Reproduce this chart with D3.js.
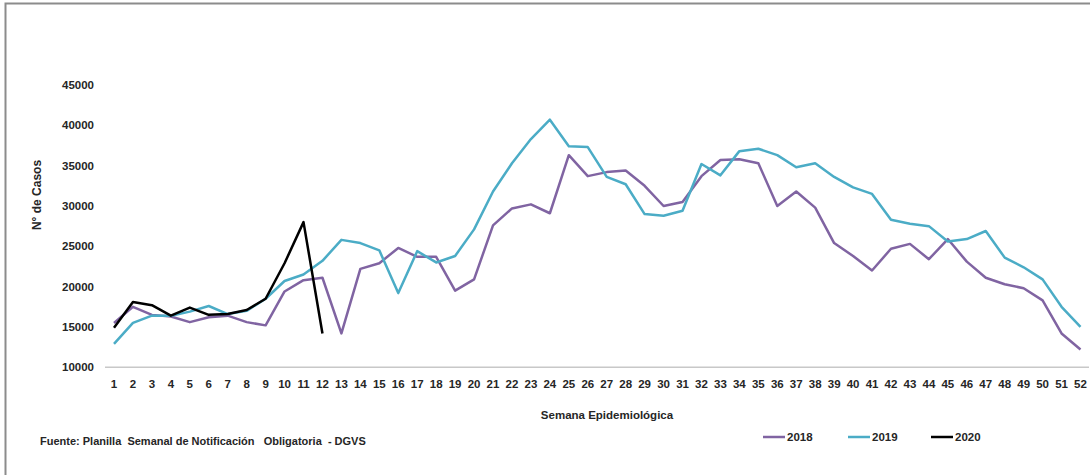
<!DOCTYPE html>
<html lang="es">
<head>
<meta charset="utf-8">
<title>Notificación semanal</title>
<script src="https://cdn.jsdelivr.net/npm/d3@7"></script>
<style>
  body { margin: 0; background: #fff; }
  svg { display: block; font-family: "Liberation Sans", Arial, sans-serif; font-weight: bold; }
</style>
</head>
<body>
<div id="chart"></div>
<script>
const weeks = d3.range(1, 53);
const yTicks = [10000, 15000, 20000, 25000, 30000, 35000, 40000, 45000];

const cases2018 = [15500, 17500, 16500, 16300, 15600, 16200, 16400, 15600, 15200, 19400,
  20800, 21100, 14200, 22200, 22900, 24800, 23700, 23700, 19500, 20900,
  27600, 29700, 30200, 29100, 36300, 33700, 34200, 34400, 32500, 30000,
  30500, 33700, 35700, 35800, 35300, 30000, 31800, 29800, 25400, 23800,
  22000, 24700, 25300, 23400, 25900, 23100, 21100, 20300, 19800, 18300,
  14200, 12200];
const cases2019 = [12900, 15500, 16400, 16400, 16900, 17600, 16600, 17000, 18500, 20700,
  21500, 23200, 25800, 25400, 24500, 19200, 24400, 23000, 23800, 27100,
  31800, 35300, 38300, 40700, 37400, 37300, 33600, 32700, 29000, 28800,
  29400, 35200, 33800, 36800, 37100, 36300, 34800, 35300, 33600, 32300,
  31500, 28300, 27800, 27500, 25600, 25900, 26900, 23600, 22400, 20900,
  17500, 15000];
const cases2020 = [14900, 18100, 17700, 16400, 17400, 16500, 16600, 17100, 18500, 22900,
  28000, 14200];

const series = [
  {name: "2018", color: "#8064a2", values: cases2018},
  {name: "2019", color: "#4bacc6", values: cases2019},
  {name: "2020", color: "#000000", values: cases2020}
];

const width = 1090, height = 475;

const svg = d3.select("#chart").append("svg")
    .attr("width", width)
    .attr("height", height);

// frame
svg.append("path")
    .attr("d", "M5.5,475V3.5H1090")
    .attr("fill", "none")
    .attr("stroke", "#8c8c8c")
    .attr("stroke-width", 2);

const x = d3.scalePoint()
    .domain(weeks)
    .range([114, 1080.5]);

const y = d3.scaleLinear()
    .domain([10000, 45000])
    .range([367.3, 85]);

// y axis labels
svg.append("g")
  .selectAll("text")
  .data(yTicks)
  .join("text")
    .attr("x", 94)
    .attr("y", d => y(d))
    .attr("dy", "0.35em")
    .attr("text-anchor", "end")
    .attr("font-size", 11.5)
    .attr("fill", "#262626")
    .text(d => d);

// x axis line
svg.append("line")
    .attr("x1", 105)
    .attr("x2", 1089)
    .attr("y1", y(10000))
    .attr("y2", y(10000))
    .attr("stroke", "#c8c8c8")
    .attr("stroke-width", 1.5);

svg.append("g")
  .selectAll("text")
  .data(weeks)
  .join("text")
    .attr("x", d => x(d))
    .attr("y", 384)
    .attr("dy", "0.35em")
    .attr("text-anchor", "middle")
    .attr("font-size", 11.5)
    .attr("fill", "#262626")
    .text(d => d);

// axis titles
svg.append("text")
    .attr("transform", "translate(37,195) rotate(-90)")
    .attr("dy", "0.35em")
    .attr("text-anchor", "middle")
    .attr("font-size", 12)
    .attr("fill", "#262626")
    .text("N° de Casos");

svg.append("text")
    .attr("x", 607)
    .attr("y", 415)
    .attr("dy", "0.35em")
    .attr("text-anchor", "middle")
    .attr("font-size", 11.5)
    .attr("fill", "#262626")
    .text("Semana Epidemiológica");

svg.append("text")
    .attr("x", 40)
    .attr("y", 441)
    .attr("dy", "0.35em")
    .attr("font-size", 11)
    .attr("fill", "#262626")
    .attr("xml:space", "preserve")
    .text("Fuente: Planilla  Semanal de Notificación   Obligatoria  - DGVS");

// lines
const line = d3.line()
    .x((d, i) => x(weeks[i]))
    .y(d => y(d));

svg.append("g")
  .selectAll("path")
  .data(series)
  .join("path")
    .attr("fill", "none")
    .attr("stroke", d => d.color)
    .attr("stroke-width", 2.5)
    .attr("stroke-linejoin", "round")
    .attr("d", d => line(d.values));

// legend
const legendX = [763, 848, 931];
const legend = svg.append("g")
  .selectAll("g")
  .data(series)
  .join("g")
    .attr("transform", (d, i) => `translate(${legendX[i]},437)`);

legend.append("line")
    .attr("x1", 0)
    .attr("x2", 22)
    .attr("stroke", d => d.color)
    .attr("stroke-width", 2.5);

legend.append("text")
    .attr("x", 24)
    .attr("dy", "0.35em")
    .attr("font-size", 11.5)
    .attr("fill", "#262626")
    .text(d => d.name);
</script>
</body>
</html>
